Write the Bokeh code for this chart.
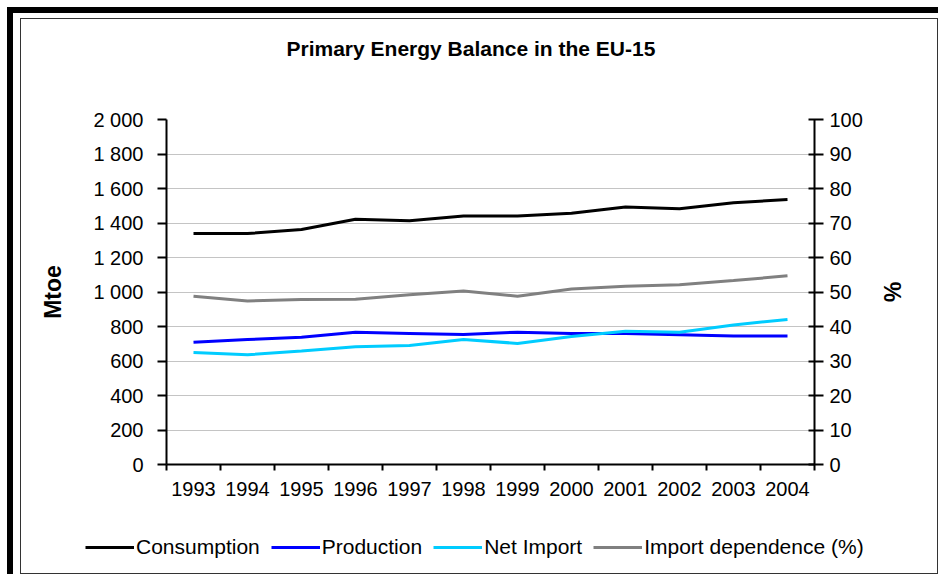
from bokeh.plotting import figure
from bokeh.models import Range1d, LinearAxis, FixedTicker, Legend, LegendItem
from bokeh.layouts import column
from bokeh.embed import file_html
from bokeh.resources import INLINE

# ---- data ----
years = [1993, 1994, 1995, 1996, 1997, 1998, 1999, 2000, 2001, 2002, 2003, 2004]
consumption = [1339, 1339, 1362, 1422, 1413, 1441, 1441, 1457, 1493, 1482, 1517, 1536]
production = [709, 724, 738, 767, 760, 753, 767, 760, 759, 752, 745, 745]
net_import = [649, 636, 658, 683, 690, 724, 702, 742, 772, 767, 809, 841]
import_dependence = [48.8, 47.4, 47.8, 47.9, 49.2, 50.3, 48.8, 50.9, 51.7, 52.1, 53.3, 54.7]

mtoe_ticks = [0, 200, 400, 600, 800, 1000, 1200, 1400, 1600, 1800, 2000]
mtoe_tick_labels = ["0", "200", "400", "600", "800", "1 000", "1 200", "1 400", "1 600", "1 800", "2 000"]
pct_ticks = [0, 10, 20, 30, 40, 50, 60, 70, 80, 90, 100]

title_text = "Primary Energy Balance in the EU-15"
series_names = ["Consumption", "Production", "Net Import", "Import dependence (%)"]
series_colors = ["#000000", "#0000FF", "#00CCFF", "#808080"]

FONT = "Liberation Sans"
W = 916

frame_styles = {
    "margin-left": "20px",
    "margin-top": "18px",
    "border": "1px solid #333333",
    "box-shadow": ("-7px -5px 0 0 white, 0 -5px 0 0 white, -7px 0 0 0 white, "
                   "-13px -11px 0 0 black, 0 -11px 0 0 black, -13px 0 0 0 black"),
}

p = figure(width=W, height=500,
           x_range=Range1d(years[0] - 0.5, years[-1] + 0.5),
           y_range=Range1d(mtoe_ticks[0], mtoe_ticks[-1]),
           output_backend="svg", toolbar_location=None,
           min_border_left=145, min_border_right=123,
           min_border_top=100, min_border_bottom=55)
p.extra_y_ranges = {"pct": Range1d(pct_ticks[0], pct_ticks[-1])}
p.outline_line_color = None
p.background_fill_color = "white"
p.border_fill_color = "white"

# title (trailing blank lines lift the first line up in the top panel)
p.title.text = title_text + "\n\n"
p.title.text_font = FONT
p.title.text_font_size = "21px"
p.title.text_font_style = "bold"
p.title.align = "left"
p.title.offset = 120
p.title.standoff = 28
p.title.vertical_align = "bottom"
p.title.text_color = "black"

# x axis
xa = p.xaxis[0]
xa.ticker = FixedTicker(ticks=years, minor_ticks=[y - 0.5 for y in years] + [years[-1] + 0.5])
xa.major_label_overrides = {y: str(y) for y in years}
xa.major_tick_in = 0
xa.major_tick_out = 0
xa.minor_tick_in = 0
xa.minor_tick_out = 6
xa.minor_tick_line_color = "black"
xa.minor_tick_line_width = 2
xa.axis_line_width = 2
xa.axis_line_color = "black"
xa.major_label_text_font = FONT
xa.major_label_text_font_size = "20px"
xa.major_label_text_color = "black"
xa.major_label_standoff = 11
p.xgrid.visible = False

# left axis
ya = p.yaxis[0]
ya.ticker = FixedTicker(ticks=mtoe_ticks)
ya.major_label_overrides = {t: l for t, l in zip(mtoe_ticks, mtoe_tick_labels)}
ya.minor_tick_line_color = None
ya.major_tick_in = 0
ya.major_tick_out = 9
ya.major_tick_line_width = 2
ya.axis_line_width = 2
ya.major_label_text_font = FONT
ya.major_label_text_font_size = "20px"
ya.major_label_text_color = "black"
ya.major_label_standoff = 14
ya.axis_label = "Mtoe"
ya.axis_label_text_font = FONT
ya.axis_label_text_font_size = "23px"
ya.axis_label_text_font_style = "bold"
ya.axis_label_text_color = "black"
ya.axis_label_standoff = 24
p.ygrid.ticker = FixedTicker(ticks=mtoe_ticks)
p.ygrid.grid_line_color = "#c4c4c4"
p.ygrid.grid_line_width = 1

# right axis
ra = LinearAxis(y_range_name="pct", ticker=FixedTicker(ticks=pct_ticks))
ra.minor_tick_line_color = None
ra.major_tick_in = 6
ra.major_tick_out = 9
ra.major_tick_line_width = 2
ra.axis_line_width = 2
ra.major_label_text_font = FONT
ra.major_label_text_font_size = "20px"
ra.major_label_text_color = "black"
ra.major_label_standoff = 6
ra.axis_label = "%"
ra.axis_label_text_font = FONT
ra.axis_label_text_font_size = "23px"
ra.axis_label_text_font_style = "bold"
ra.axis_label_text_color = "black"
ra.axis_label_standoff = 13
p.add_layout(ra, "right")

# lines
p.line(years, consumption, line_color=series_colors[0], line_width=3)
p.line(years, production, line_color=series_colors[1], line_width=3)
p.line(years, net_import, line_color=series_colors[2], line_width=3)
p.line(years, import_dependence, line_color=series_colors[3], line_width=3, y_range_name="pct")

# legend strip (separate small figure under the chart)
lg = figure(width=W, height=54, x_range=Range1d(years[0] - 0.5, years[-1] + 0.5),
            y_range=Range1d(mtoe_ticks[0], mtoe_ticks[-1]),
            output_backend="svg", toolbar_location=None,
            x_axis_location=None, y_axis_location=None,
            min_border_left=0, min_border_right=0, min_border_top=0, min_border_bottom=0)
lg.grid.visible = False
lg.outline_line_color = None
lg.background_fill_color = "white"
lg.border_fill_color = "white"
for fig in (p, lg):
    if "frame_align" in fig.properties():
        fig.frame_align = False

# legend keys: same series, hidden in the strip (the legend still shows their line style)
series_values = [consumption, production, net_import, import_dependence]
keys = [lg.line(years, v, line_color=c, line_width=3, visible=False)
        for v, c in zip(series_values, series_colors)]
legend = Legend(items=[LegendItem(label=n, renderers=[r]) for n, r in zip(series_names, keys)],
                orientation="horizontal", location=(64, 14),
                border_line_color=None, background_fill_alpha=0,
                inactive_fill_alpha=0,
                padding=0, margin=0, spacing=11, label_standoff=2,
                glyph_width=49, glyph_height=20,
                label_text_font=FONT, label_text_font_size="21px",
                label_text_color="black")
lg.add_layout(legend, "center")

root = column(p, lg, spacing=0, styles=frame_styles)

open("out.html", "w").write(file_html(root, INLINE))
